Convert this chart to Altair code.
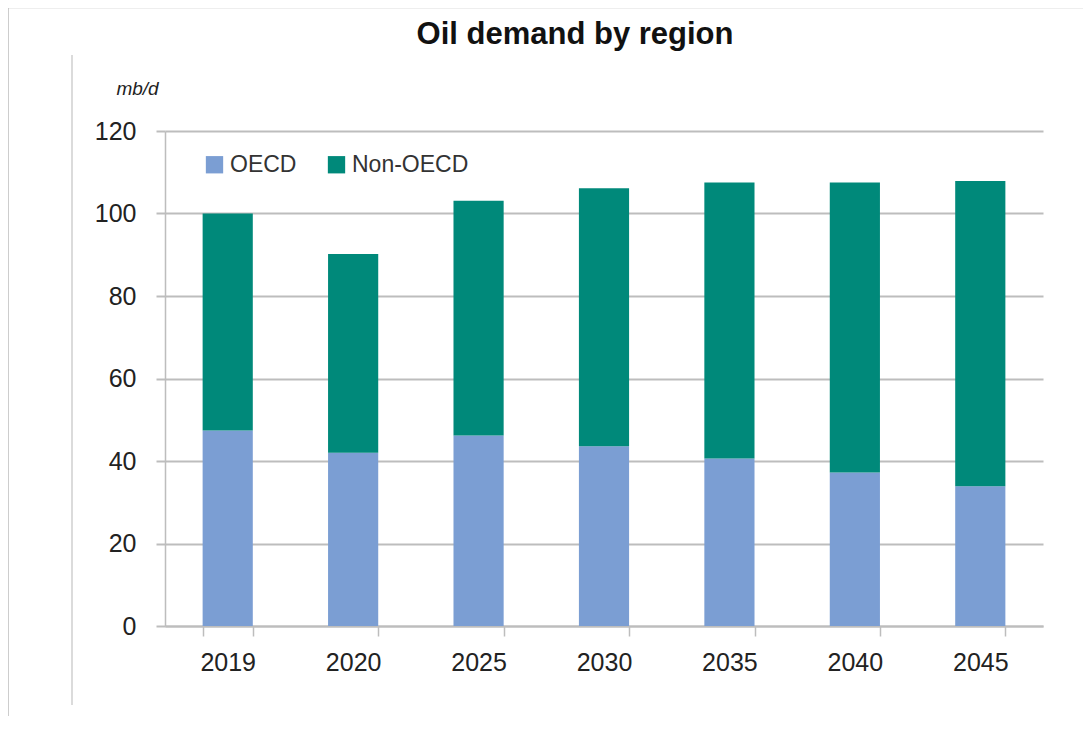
import altair as alt
import pandas as pd

years = ["2019", "2020", "2025", "2030", "2035", "2040", "2045"]
oecd = [47.4, 42.0, 46.2, 43.6, 40.6, 37.2, 33.9]
total = [100.0, 90.2, 103.1, 106.1, 107.5, 107.5, 107.9]
series = ["OECD", "Non-OECD"]
colors = ["#7b9ed3", "#00897a"]
title_text = ["Oil demand by region"]

rows = []
for y, o, t in zip(years, oecd, total):
    rows.append({"year": y, "region": "OECD", "value": o, "ord": 0})
    rows.append({"year": y, "region": "Non-OECD", "value": round(t - o, 1), "ord": 1})
df = pd.DataFrame(rows)

FONT = "Liberation Sans"

bars = alt.Chart(df).mark_bar().encode(
    x=alt.X("year:N", sort=years, title=None,
            scale=alt.Scale(paddingInner=0.6, paddingOuter=0.3),
            axis=alt.Axis(labelAngle=0, labelFontSize=25, labelColor="#222",
                          labelFont=FONT, labelPadding=14,
                          domainColor="#bdbdbd", domainWidth=2,
                          tickColor="#bdbdbd", tickWidth=1.5, tickSize=10,
                          tickBand="extent")),
    y=alt.Y("value:Q", stack="zero",
            scale=alt.Scale(domain=[0, 120], nice=False),
            axis=alt.Axis(values=[0, 20, 40, 60, 80, 100, 120], title="mb/d",
                          titleAngle=0, titleFontStyle="italic", titleFontWeight="normal",
                          titleFontSize=19, titleFont=FONT, titleColor="#222",
                          titleAlign="center", titleBaseline="bottom",
                          titleX=-28, titleY=-33,
                          labelFontSize=25, labelFont=FONT, labelColor="#222",
                          labelPadding=20,
                          domainColor="#bdbdbd", domainWidth=1.5,
                          gridColor="#bdbdbd", gridWidth=2,
                          tickColor="#bdbdbd", tickWidth=2, tickSize=9)),
    color=alt.Color("region:N", sort=series,
                    scale=alt.Scale(domain=series, range=colors),
                    legend=alt.Legend(title=None, orient="none", direction="horizontal",
                                      legendX=38, legendY=22, symbolType="square",
                                      symbolSize=300, symbolStrokeWidth=0,
                                      labelFontSize=23, labelFont=FONT, labelColor="#333",
                                      columnPadding=28, labelOffset=4)),
    order=alt.Order("ord:Q"),
)

frame_df = pd.DataFrame({"k": [0]})
inner_line = alt.Chart(frame_df).mark_rule(color="#cfcfcf", strokeWidth=1.5).encode(
    x=alt.value(-93), y=alt.value(-76), y2=alt.value(574))
top_border = alt.Chart(frame_df).mark_rule(color="#bdbdbd", strokeWidth=1.5).encode(
    x=alt.value(-157), x2=alt.value(927), y=alt.value(-123.5))
left_border = alt.Chart(frame_df).mark_rule(color="#bdbdbd", strokeWidth=1.5).encode(
    x=alt.value(-157), y=alt.value(-124), y2=alt.value(600))

title = alt.Chart(pd.DataFrame({"t": title_text})).mark_text(
    font=FONT, fontSize=31, fontWeight="bold", color="#111",
    align="center", baseline="middle").encode(
    text="t:N", x=alt.value(410), y=alt.value(-96))

chart = alt.layer(bars, inner_line, top_border, left_border, title).properties(
    width=878, height=495,
    autosize=alt.AutoSizeParams(type="none"),
    padding={"left": 157, "top": 123, "right": 40, "bottom": 90},
).configure_view(stroke=None)

chart.save("out.html", embed_options={"renderer": "svg", "actions": False})
